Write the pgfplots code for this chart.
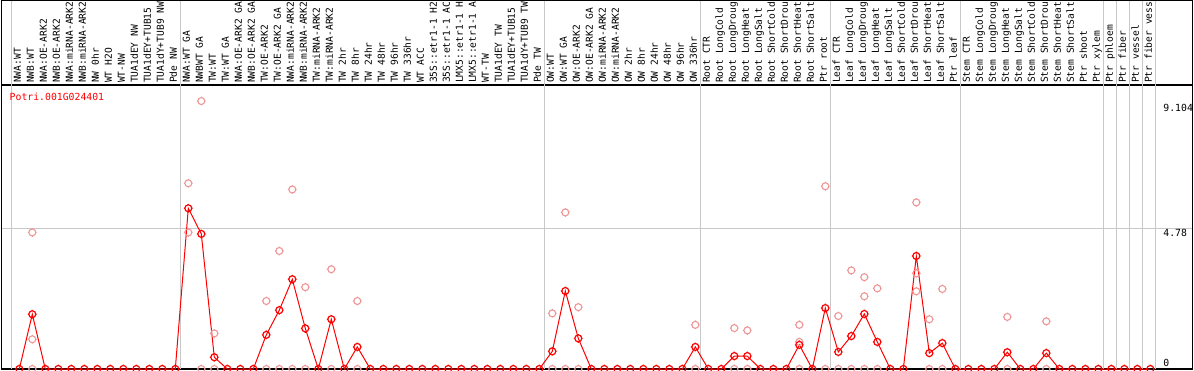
\documentclass[border=0pt]{standalone}
\usepackage{pgfplots}
\pgfplotsset{compat=1.18}
\usepackage{fontspec}
\newfontfamily\monof{DejaVu Sans Mono}
\newcommand\lbl{\monof\fontsize{4.9pt}{5.5pt}\selectfont}
\newcommand\xlbl{\monof\fontsize{4.8pt}{5.4pt}\selectfont}
\definecolor{gridc}{RGB}{200,200,200}
\definecolor{repc}{RGB}{238,150,150}
\pgfdeclareplotmark{tc}{%
  \pgfpathcircle{\pgfpointorigin}{\pgfplotmarksize}%
  \pgfpathmoveto{\pgfpoint{0pt}{\pgfplotmarksize}}\pgfpathlineto{\pgfpoint{0pt}{1.25\pgfplotmarksize}}%
  \pgfpathmoveto{\pgfpoint{0pt}{-\pgfplotmarksize}}\pgfpathlineto{\pgfpoint{0pt}{-1.25\pgfplotmarksize}}%
  \pgfpathmoveto{\pgfpoint{\pgfplotmarksize}{0pt}}\pgfpathlineto{\pgfpoint{1.25\pgfplotmarksize}{0pt}}%
  \pgfpathmoveto{\pgfpoint{-\pgfplotmarksize}{0pt}}\pgfpathlineto{\pgfpoint{-1.25\pgfplotmarksize}{0pt}}%
  \pgfusepathqstroke}
\begin{document}
\begin{tikzpicture}
\begin{axis}[
  width=595.5pt, height=142pt, scale only axis,
  xmin=-0.354, xmax=91.26, ymin=0, ymax=9.65,
  clip=false,
  axis line style={black, line width=0.7pt},
  major tick length=0pt,
  xtick={1,...,88},
  xticklabels={NWA:WT,NWB:WT,NWA:OE-ARK2,NWB:OE-ARK2,NWA:miRNA-ARK2,NWB:miRNA-ARK2,NW 0hr,WT H2O,WT-NW,TUA1dEY NW,TUA1dEY+TUB15,TUA1dY+TUB9 NW,Pde NW,
    NWA:WT GA,NWBWT GA,TW:WT,TW:WT GA,NWA:OE-ARK2 GA,NWB:OE-ARK2 GA,TW:OE-ARK2,TW:OE-ARK2 GA,NWA:miRNA-ARK2,NWB:miRNA-ARK2,TW:miRNA-ARK2,TW:miRNA-ARK2,TW 2hr,TW 8hr,TW 24hr,TW 48hr,TW 96hr,TW 336hr,WT ACC,35S::etr1-1 H2,35S::etr1-1 AC,LMX5::etr1-1 H,LMX5::etr1-1 A,WT-TW,TUA1dEY TW,TUA1dEY+TUB15,TUA1dY+TUB9 TW,Pde TW,
    OW:WT,OW:WT GA,OW:OE-ARK2,OW:OE-ARK2 GA,OW:miRNA-ARK2,OW:miRNA-ARK2,OW 2hr,OW 8hr,OW 24hr,OW 48hr,OW 96hr,OW 336hr,
    Root CTR,Root LongCold,Root LongDroug,Root LongHeat,Root LongSalt,Root ShortCold,Root ShortDrou,Root ShortHeat,Root ShortSalt,Ptr root,
    Leaf CTR,Leaf LongCold,Leaf LongDroug,Leaf LongHeat,Leaf LongSalt,Leaf ShortCold,Leaf ShortDrou,Leaf ShortHeat,Leaf ShortSalt,Ptr leaf,
    Stem CTR,Stem LongCold,Stem LongDroug,Stem LongHeat,Stem LongSalt,Stem ShortCold,Stem ShortDrou,Stem ShortHeat,Stem ShortSalt,Ptr shoot,Ptr xylem,
    Ptr phloem,Ptr fiber,Ptr vessel,Ptr fiber vess},
  xticklabel pos=right,
  xticklabel style={xshift=0.8pt, rotate=90, anchor=base west, inner sep=0.9pt, font=\xlbl},
  ytick={4.78},
  yticklabels={\smash{\raisebox{-4pt}{4.78}}},
  ymajorgrids,
  grid style={gridc, line width=0.5pt},
  extra y ticks={0,9.104},
  extra y tick labels={\smash{\raisebox{1.5pt}{0}},\smash{\raisebox{-5pt}{9.104}}},
  extra y tick style={grid=none},
  yticklabel pos=right,
  yticklabel style={anchor=west, inner sep=0pt, xshift=-14.85pt, font=\lbl},
]
\pgfplotsinvokeforeach{0.38,13.38,41.38,53.38,63.38,73.38,84.38,85.38,86.38,87.38,88.38}{
  \draw[gridc, line width=0.5pt] (axis cs:#1,0) -- (axis cs:#1,12.5);
}
\draw[black, line width=0.7pt] (rel axis cs:0,1) -- (rel axis cs:0,1.2975) -- (rel axis cs:1,1.2975) -- (rel axis cs:1,1);

\addplot[only marks, mark=tc, mark size=1.75pt, color=repc, mark options={line width=0.55pt}] coordinates {
(2,4.64) (2,1.01) (2,0)
(14,6.31) (14,4.64)
(15,9.104) (15,0)
(16,1.21) (16,0)
(20,2.31) (20,0)
(21,4.01) (21,0)
(22,6.10) (22,0)
(23,2.78) (23,0)
(25,3.39) (25,0)
(27,2.31) (27,0)
(42,1.89) (42,0)
(43,5.32) (43,0)
(44,2.10) (44,0)
(53,1.50) (53,0)
(56,1.39) (56,0)
(57,1.31) (57,0)
(61,1.50) (61,0.92) (61,0)
(63,6.21) (63,0)
(64,1.80) (64,0)
(65,3.35) (65,0)
(66,3.12) (66,2.47) (66,0)
(67,2.74) (67,0)
(70,5.66) (70,3.25) (70,2.64)
(71,1.69) (71,0)
(72,2.72) (72,0)
(77,1.77) (77,0)
(80,1.62) (80,0)
};

\addplot[red, line width=0.5pt, mark=tc, mark size=1.75pt, mark options={line width=0.6pt, solid}] coordinates {
(1,0) (2,1.86) (3,0) (4,0) (5,0) (6,0) (7,0) (8,0) (9,0) (10,0) (11,0) (12,0) (13,0)
(14,5.46) (15,4.59) (16,0.40) (17,0) (18,0) (19,0) (20,1.16) (21,2.00) (22,3.05) (23,1.38)
(24,0) (25,1.69) (26,0) (27,0.75) (28,0) (29,0) (30,0) (31,0) (32,0) (33,0) (34,0) (35,0)
(36,0) (37,0) (38,0) (39,0) (40,0) (41,0)
(42,0.60) (43,2.65) (44,1.04) (45,0) (46,0) (47,0) (48,0) (49,0) (50,0) (51,0) (52,0) (53,0.75)
(54,0) (55,0) (56,0.44) (57,0.44) (58,0) (59,0) (60,0) (61,0.82) (62,0) (63,2.07)
(64,0.58) (65,1.12) (66,1.87) (67,0.92) (68,0) (69,0) (70,3.84) (71,0.54) (72,0.88) (73,0)
(74,0) (75,0) (76,0) (77,0.57) (78,0) (79,0) (80,0.54) (81,0) (82,0) (83,0) (84,0)
(85,0) (86,0) (87,0) (88,0)
};

\node[anchor=base west, inner sep=0pt, text=red, font=\lbl] at (rel axis cs:0.0064,0.9447) {Potri.001G024401};
\end{axis}
\pgfresetboundingbox
\path[use as bounding box] (-0.85pt,-0.5pt) rectangle (596.15pt,184.5pt);
\end{tikzpicture}
\end{document}
